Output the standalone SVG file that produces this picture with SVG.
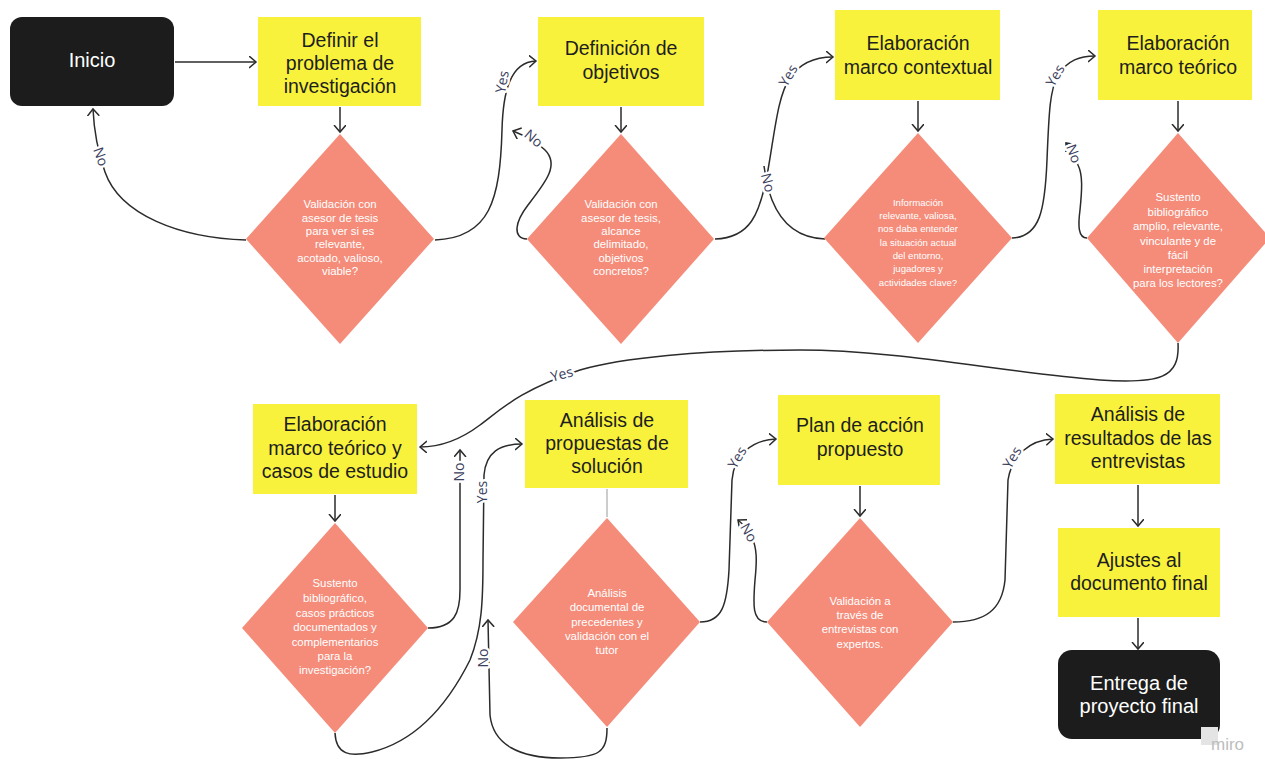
<svg xmlns="http://www.w3.org/2000/svg" width="1265" height="759" viewBox="0 0 1265 759">
<defs>
<marker id="arr" markerUnits="userSpaceOnUse" markerWidth="12" markerHeight="14" refX="7" refY="6" orient="auto">
<path d="M0,0 L7,6 L0,12" fill="none" stroke="#2b2b2b" stroke-width="1.5"/>
</marker>
<style>
.box{fill:#f8f23c}
.term{fill:#1c1c1c}
.dia{fill:#f58c7a}
.bt{font-family:"Liberation Sans",Arial,sans-serif;font-size:19.5px;fill:#1e1e1e;text-anchor:middle}
.tt{font-family:"Liberation Sans",Arial,sans-serif;font-size:20px;fill:#ffffff;text-anchor:middle}
.dt{font-family:"Liberation Sans",Arial,sans-serif;font-size:11.4px;fill:#ffffff;text-anchor:middle}
.dts{font-family:"Liberation Sans",Arial,sans-serif;font-size:9.6px;fill:#ffffff;text-anchor:middle}
.c{fill:none;stroke:#2b2b2b;stroke-width:1.5}
.ca{fill:none;stroke:#2b2b2b;stroke-width:1.5;marker-end:url(#arr)}
.lb{font-family:"Open Sans","Liberation Sans",sans-serif;font-size:14px;fill:#3a3d5c;text-anchor:middle;paint-order:stroke;stroke:#ffffff;stroke-width:5px;stroke-linejoin:round}
</style>
</defs>
<rect width="1265" height="759" fill="#ffffff"/>

<g id="connectors">
<path class="ca" d="M175,62 L256,62"/>
<path class="ca" d="M340,107 L340,132"/>
<path class="ca" d="M621,107 L621,132"/>
<path class="ca" d="M918,101 L918,131"/>
<path class="ca" d="M1178,101 L1178,131"/>
<path class="ca" d="M335,495 L335,521"/>
<path d="M607,489 L607,517" fill="none" stroke="#999" stroke-width="1"/>
<path class="ca" d="M860,486 L860,516"/>
<path class="ca" d="M1138,485 L1138,526"/>
<path class="ca" d="M1138,618 L1138,649"/>

<path class="ca" d="M246,240 C180,238 120,215 105,172 C98,152 94,132 93,109"/>
<path class="ca" d="M435,240 C490,238 500,200 502,130 C503,92 510,62 536,61"/>
<path class="ca" d="M527,239 C512,238 515,222 528,205 C545,183 560,165 545,150 C538,143 528,137 513,131"/>
<path class="ca" d="M715,239 C750,238 760,215 768,170 C775,130 778,95 790,78 C800,63 815,57 833,57"/>
<path class="c" d="M825,239 C795,238 780,220 772,200 C768,190 766,180 764,166"/>
<path class="ca" d="M1012,238 C1040,237 1045,210 1047,160 C1049,110 1050,90 1058,75 C1068,60 1080,56 1095,56"/>
<path class="ca" d="M1087,238 C1078,238 1078,225 1080,210 C1082,190 1083,175 1078,165 C1075,155 1071,149 1066,143"/>

<path class="ca" d="M1178,343 C1180,378 1160,384 1100,380 C1000,372 900,350 800,350 C700,350 620,358 580,370 C520,390 500,410 480,425 C460,440 440,447 420,447"/>
<path class="ca" d="M428,628 C455,628 460,612 460,590 L460,450"/>
<path class="ca" d="M335,733 C336,755 350,757 372,752 C420,740 450,700 470,660 C482,630 483,600 483,560 L484,475 C486,452 500,444 522,444"/>
<path class="ca" d="M607,728 C607,752 600,758 560,758 C520,758 493,745 490,715 L488,620"/>
<path class="ca" d="M700,622 C722,622 727,605 729,570 L732,480 C734,455 752,440 776,439"/>
<path class="ca" d="M767,622 C752,622 753,605 755,580 C757,560 757,548 752,538 C748,530 744,525 738,520"/>
<path class="ca" d="M953,622 C985,622 1002,610 1005,580 L1008,480 C1012,455 1030,440 1053,439"/>
</g>

<g id="labels">
<text class="lb" transform="translate(100,157) rotate(70)" dy="4">No</text>
<text class="lb" transform="translate(503,82) rotate(-80)" dy="4">Yes</text>
<text class="lb" transform="translate(533,139) rotate(40)" dy="4">No</text>
<text class="lb" transform="translate(789,76) rotate(-60)" dy="4">Yes</text>
<text class="lb" transform="translate(767,183) rotate(75)" dy="4">No</text>
<text class="lb" transform="translate(1056,76) rotate(-60)" dy="4">Yes</text>
<text class="lb" transform="translate(1073,154) rotate(70)" dy="4">No</text>
<text class="lb" transform="translate(562,375) rotate(-15)" dy="4">Yes</text>
<text class="lb" transform="translate(460,472) rotate(-90)" dy="4">No</text>
<text class="lb" transform="translate(483,492) rotate(-90)" dy="4">Yes</text>
<text class="lb" transform="translate(484,658) rotate(-90)" dy="4">No</text>
<text class="lb" transform="translate(738,458) rotate(-60)" dy="4">Yes</text>
<text class="lb" transform="translate(748,533) rotate(60)" dy="4">No</text>
<text class="lb" transform="translate(1013,458) rotate(-60)" dy="4">Yes</text>
</g>

<g id="inicio">
<rect class="term" x="10" y="17" width="164" height="89" rx="12"/>
<text class="tt" x="92" y="67">Inicio</text>
</g>
<g id="definir-problema">
<rect class="box" x="258" y="17" width="163" height="89"/>
<text class="bt" x="340" y="47">Definir el</text>
<text class="bt" x="340" y="70">problema de</text>
<text class="bt" x="340" y="93">investigación</text>
</g>
<g id="definicion-objetivos">
<rect class="box" x="538" y="17" width="166" height="89"/>
<text class="bt" x="621" y="55">Definición de</text>
<text class="bt" x="621" y="79">objetivos</text>
</g>
<g id="marco-contextual">
<rect class="box" x="835" y="10" width="165" height="90"/>
<text class="bt" x="918" y="50">Elaboración</text>
<text class="bt" x="918" y="74">marco contextual</text>
</g>
<g id="marco-teorico">
<rect class="box" x="1098" y="10" width="154" height="90"/>
<text class="bt" x="1178" y="50">Elaboración</text>
<text class="bt" x="1178" y="74">marco teórico</text>
</g>

<g id="val-1">
<polygon class="dia" points="340,134 434,239 340,344 246,239"/>
<text class="dt" x="340" y="208">Validación con</text>
<text class="dt" x="340" y="221.5">asesor de tesis</text>
<text class="dt" x="340" y="235">para ver si es</text>
<text class="dt" x="340" y="248">relevante,</text>
<text class="dt" x="340" y="261.5">acotado, valioso,</text>
<text class="dt" x="340" y="275">viable?</text>
</g>
<g id="val-2">
<polygon class="dia" points="621,134 714,239 621,344 527,239"/>
<text class="dt" x="621" y="208">Validación con</text>
<text class="dt" x="621" y="221.5">asesor de tesis,</text>
<text class="dt" x="621" y="235">alcance</text>
<text class="dt" x="621" y="248">delimitado,</text>
<text class="dt" x="621" y="261.5">objetivos</text>
<text class="dt" x="621" y="275">concretos?</text>
</g>
<g id="val-3">
<polygon class="dia" points="918,133 1012,238 918,343 824,238"/>
<text class="dts" x="918" y="205.5">Información</text>
<text class="dts" x="918" y="219">relevante, valiosa,</text>
<text class="dts" x="918" y="232">nos daba entender</text>
<text class="dts" x="918" y="245.5">la situación actual</text>
<text class="dts" x="918" y="259">del entorno,</text>
<text class="dts" x="918" y="272">jugadores y</text>
<text class="dts" x="918" y="285.5">actividades clave?</text>
</g>
<g id="val-4">
<polygon class="dia" points="1178,133 1270,238 1178,343 1087,238"/>
<text class="dt" x="1178" y="201">Sustento</text>
<text class="dt" x="1178" y="215.5">bibliográfico</text>
<text class="dt" x="1178" y="230">amplio, relevante,</text>
<text class="dt" x="1178" y="245">vinculante y de</text>
<text class="dt" x="1178" y="259">fácil</text>
<text class="dt" x="1178" y="272.5">interpretación</text>
<text class="dt" x="1178" y="287">para los lectores?</text>
</g>

<g id="marco-teorico-casos">
<rect class="box" x="253" y="404" width="164" height="90"/>
<text class="bt" x="335" y="431">Elaboración</text>
<text class="bt" x="335" y="455">marco teórico y</text>
<text class="bt" x="335" y="478">casos de estudio</text>
</g>
<g id="analisis-propuestas">
<rect class="box" x="525" y="400" width="163" height="88"/>
<text class="bt" x="607" y="427">Análisis de</text>
<text class="bt" x="607" y="450">propuestas de</text>
<text class="bt" x="607" y="473">solución</text>
</g>
<g id="plan-accion">
<rect class="box" x="778" y="395" width="162" height="90"/>
<text class="bt" x="860" y="432">Plan de acción</text>
<text class="bt" x="860" y="456">propuesto</text>
</g>
<g id="analisis-resultados">
<rect class="box" x="1055" y="394" width="165" height="90"/>
<text class="bt" x="1138" y="421">Análisis de</text>
<text class="bt" x="1138" y="445">resultados de las</text>
<text class="bt" x="1138" y="468">entrevistas</text>
</g>
<g id="ajustes">
<rect class="box" x="1058" y="528" width="162" height="89"/>
<text class="bt" x="1139" y="567">Ajustes al</text>
<text class="bt" x="1139" y="590">documento final</text>
</g>
<g id="entrega">
<rect class="term" x="1058" y="650" width="162" height="89" rx="14"/>
<text class="tt" x="1139" y="690">Entrega de</text>
<text class="tt" x="1139" y="713">proyecto final</text>
</g>

<g id="val-5">
<polygon class="dia" points="335,523 428,628 335,733 242,628"/>
<text class="dt" x="335" y="587">Sustento</text>
<text class="dt" x="335" y="602">bibliográfico,</text>
<text class="dt" x="335" y="617">casos prácticos</text>
<text class="dt" x="335" y="631">documentados y</text>
<text class="dt" x="335" y="646">complementarios</text>
<text class="dt" x="335" y="660">para la</text>
<text class="dt" x="335" y="674">investigación?</text>
</g>
<g id="val-6">
<polygon class="dia" points="607,518 700,622 607,727 513,622"/>
<text class="dt" x="607" y="597">Análisis</text>
<text class="dt" x="607" y="611">documental de</text>
<text class="dt" x="607" y="626">precedentes y</text>
<text class="dt" x="607" y="640">validación con el</text>
<text class="dt" x="607" y="654">tutor</text>
</g>
<g id="val-7">
<polygon class="dia" points="860,518 953,622 860,727 767,622"/>
<text class="dt" x="860" y="605">Validación a</text>
<text class="dt" x="860" y="619">través de</text>
<text class="dt" x="860" y="633">entrevistas con</text>
<text class="dt" x="860" y="648">expertos.</text>
</g>

<g id="watermark">
<rect x="1201" y="727" width="17" height="18" fill="#e4e4e4"/>
<text x="1211" y="750" font-family="'Liberation Sans',Arial,sans-serif" font-size="17" fill="#bdbdbd">miro</text>
</g>
</svg>
